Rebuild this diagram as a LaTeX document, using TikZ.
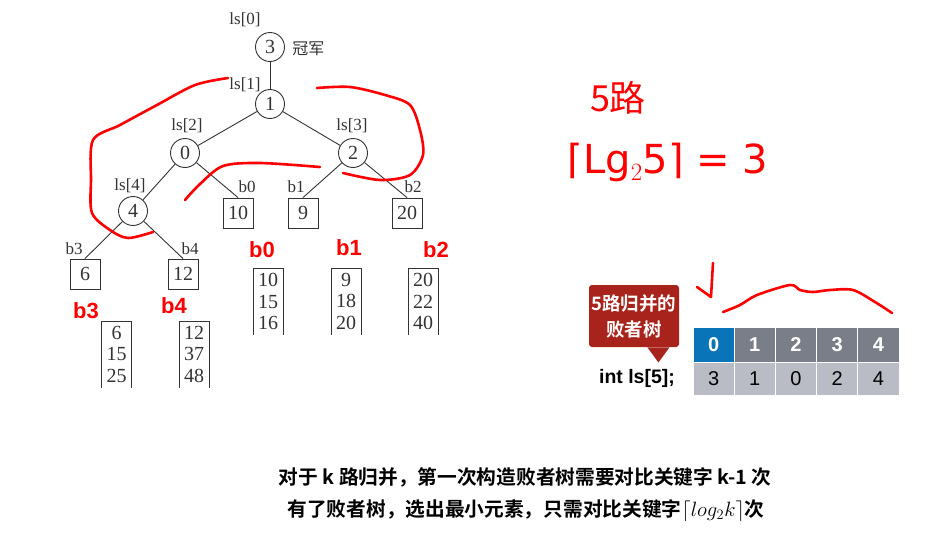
\documentclass[tikz,border=0pt]{standalone}
\usepackage{fontspec}
\usepackage[dvipsnames]{xcolor}
\setmainfont{Liberation Serif}
\newfontfamily\cjk{Noto Sans CJK SC}[BoldFont=* Bold]
\newfontfamily\helv{Liberation Sans}
\newfontfamily\dejavu{DejaVu Sans}
\definecolor{bubred}{HTML}{A8231B}
\definecolor{lsblue}{HTML}{0A74B8}
\definecolor{lsgray}{HTML}{797E88}
\definecolor{lslight}{HTML}{B9BBC5}
\definecolor{treeink}{HTML}{333333}

\begin{document}
\begin{tikzpicture}[x=1pt,y=-1pt,line width=0.9pt,
    main node/.style={circle,draw=treeink,minimum size=29pt,inner sep=0pt,text=treeink,font=\fontsize{20}{20}\selectfont},
    leaf node/.style={rectangle,draw=treeink,minimum size=30pt,inner sep=0pt,text=treeink,font=\fontsize{20}{20}\selectfont},
    col node/.style={minimum width=29pt,minimum height=66pt,anchor=north,align=center,inner sep=0pt,text=treeink,font=\fontsize{20}{21.5}\selectfont},
    lab/.style={inner sep=0pt,text=treeink,font=\fontsize{17}{17}\selectfont},
    ink/.style={red,line width=2.6pt,line cap=round,line join=round},
    inktext/.style={red,inner sep=0pt},
    cell/.style={minimum width=41.2pt,inner sep=0pt,draw=white,line width=1pt,font=\helv\fontsize{20}{20}\selectfont}]
    \useasboundingbox (0,0) rectangle (938,541);

    % loser tree
    \node[main node] (3) at (270,47) {3};
    \node[main node] (1) at (270,104) {1};
    \node[main node] (0) at (185,153) {0};
    \node[main node] (2) at (353,153) {2};
    \node[main node] (4) at (133,211) {4};
    \node[leaf node] (b0) at (238,213) {10};
    \node[leaf node] (b1) at (303,213) {9};
    \node[leaf node] (b2) at (407,213) {20};
    \node[leaf node] (b3) at (85,274) {6};
    \node[leaf node] (b4) at (183,274) {12};

    \node[lab] (ls0) at (245,20) {ls[0]};
    \node[lab] (ls1) at (245,85) {ls[1]};
    \node[lab] (ls2) at (187,126) {ls[2]};
    \node[lab] (ls3) at (352,126) {ls[3]};
    \node[lab] (ls4) at (130,186) {ls[4]};
    \node[lab] (lb0) at (247,187) {b0};
    \node[lab] (lb1) at (296,187) {b1};
    \node[lab] (lb2) at (413,187) {b2};
    \node[lab] (lb3) at (74,249) {b3};
    \node[lab] (lb4) at (190,249) {b4};
    \node[lab,right] (champ) at (292,49) {\cjk\fontsize{16}{16}\selectfont 冠军};

    \path[draw=treeink]
        (3) edge (1)
        (1) edge (0)
        (1) edge (2)
        (0) edge (4)
        (0) edge (b0.north)
        (2) edge (b1.north)
        (2) edge (b2.north)
        (4) edge (b3.north)
        (4) edge (b4.north)
    ;

    % runs
    \node[col node] (c3) at (116.5,321) {6\\15\\25};
    \node[col node] (c4) at (194,321) {12\\37\\48};
    \node[col node] (c0) at (268,268) {10\\15\\16};
    \node[col node] (c1) at (346,268) {9\\18\\20};
    \node[col node] (c2) at (423,268) {20\\22\\40};
    \foreach \c in {c0,c1,c2,c3,c4}
        \draw[treeink] (\c.south west) -- (\c.north west) -- (\c.north east) -- (\c.south east);

    % array ls[5]
    \foreach \i/\v/\f in {0/3/lsblue,1/1/lsgray,2/0/lsgray,3/2/lsgray,4/4/lsgray} {
        \node[cell,fill=\f,minimum height=35pt,text=white,font=\helv\bfseries\fontsize{20}{20}\selectfont] (h\i) at (713.6+41.2*\i,344.5) {\i};
        \node[cell,fill=lslight,minimum height=33pt,text=black] (v\i) at (713.6+41.2*\i,378.5) {\v};
    }
    \node[inner sep=0pt,font=\helv\bfseries\fontsize{19.5}{19.5}\selectfont] (decl) at (637,378) {int ls[5];};
    \node[fill=bubred,rounded corners=3pt,minimum width=90pt,minimum height=62pt,align=center,inner sep=0pt,
          text=white,font=\cjk\bfseries\fontsize{18.5}{26}\selectfont] (bub) at (634,316) {5路归并的\\败者树};
    \fill[bubred] ([xshift=-32pt]bub.south east) -- ([xshift=-21pt,yshift=-15pt]bub.south east) -- ([xshift=-10pt]bub.south east) -- cycle;

    % captions
    \node[inner sep=0pt,font=\cjk\bfseries\fontsize{19.7}{19.7}\selectfont] (cap1) at (525,477) {对于 k 路归并，第一次构造败者树需要对比关键字 k-1 次};
    \node[inner sep=0pt,font=\cjk\bfseries\fontsize{19.7}{19.7}\selectfont] (cap2) at (526,511) {有了败者树，选出最小元素，只需对比关键字$\lceil log_2k\rceil$次};

    % red handwriting
    \node[inktext,font=\cjk\fontsize{36}{36}\selectfont] (way) at (618,98) {5路};
    \node[inktext,font=\dejavu\fontsize{40}{40}\selectfont] (depth) at (668,162) {⌈Lg$_2$5⌉ = 3};
    \node[inktext,font=\helv\bfseries\fontsize{22}{22}\selectfont] (rb0) at (262,250) {b0};
    \node[inktext,font=\helv\bfseries\fontsize{22}{22}\selectfont] (rb1) at (349,248) {b1};
    \node[inktext,font=\helv\bfseries\fontsize{22}{22}\selectfont] (rb2) at (436,250) {b2};
    \node[inktext,font=\helv\bfseries\fontsize{22}{22}\selectfont] (rb3) at (86,311) {b3};
    \node[inktext,font=\helv\bfseries\fontsize{22}{22}\selectfont] (rb4) at (174,306) {b4};
    \draw[ink] plot[smooth] coordinates {(228,78) (195,85) (157,105) (120,125) (93,140) (91,180) (92,213) (110,230) (128,238) (153,232)};
    \draw[ink] plot[smooth] coordinates {(317,88) (350,87) (385,95) (410,105) (420,130) (423,155) (410,175) (380,180) (343,173)};
    \draw[ink] plot[smooth] coordinates {(185,200) (200,184) (223,166) (260,163) (320,167)};
    \draw[ink] (713,263) -- (711,297) -- (697,287);
    \draw[ink] plot[smooth] coordinates {(723,312) (740,305) (757,295) (790,285) (800,290) (813,292) (830,290) (853,290) (875,302) (892,313)};
\end{tikzpicture}
\end{document}
